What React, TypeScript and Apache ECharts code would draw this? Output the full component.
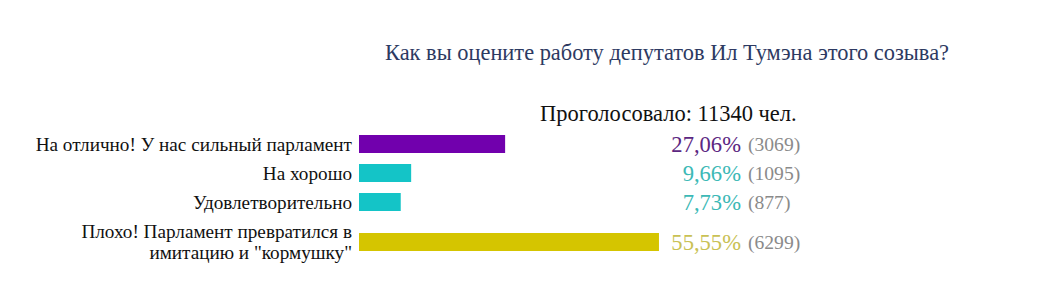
import React, { useEffect, useRef } from "react";
import * as echarts from "echarts";

const title = "Как вы оцените работу депутатов Ил Тумэна этого созыва?";
const totalVotes = 11340;
const categories = [
  "На отлично! У нас сильный парламент",
  "На хорошо",
  "Удовлетворительно",
  'Плохо! Парламент превратился в\nимитацию и "кормушку"',
];
const percents = [27.06, 9.66, 7.73, 55.55];
const counts = [3069, 1095, 877, 6299];
const barColors = ["#7100ad", "#14c4c7", "#14c4c7", "#d5c500"];
const textColors = ["#5c2782", "#3cb9b6", "#3cb9b6", "#c9c154"];

const FONT = "'Liberation Serif', 'Times New Roman', serif";

export default function App() {
  const ref = useRef<HTMLDivElement>(null);
  useEffect(() => {
    if (!ref.current) return;
    const chart = echarts.init(ref.current, null, { renderer: "svg" });

    const groups = [
      [0, 1, 2],
      [3],
    ];
    const grids = [
      { left: 359, width: 540, top: 129.5, height: 87 },
      { left: 359, width: 540, top: 222, height: 40 },
    ];

    const xAxis: any[] = [];
    const yAxis: any[] = [];
    const series: any[] = [];
    groups.forEach((idx, g) => {
      xAxis.push({
        gridIndex: g,
        type: "value",
        min: 0,
        max: 100,
        show: false,
      });
      yAxis.push({
        gridIndex: g,
        type: "category",
        inverse: true,
        data: idx.map((i) => categories[i]),
        axisLine: { show: false },
        axisTick: { show: false },
        splitLine: { show: false },
        axisLabel: {
          margin: 7,
          fontFamily: FONT,
          fontSize: 19.2,
          color: "#111",
          lineHeight: 21,
          align: "right",
          padding: g === 1 ? [0, 0, 6, 0] : 0,
        },
      });
      series.push({
        type: "bar",
        xAxisIndex: g,
        yAxisIndex: g,
        barWidth: 18,
        barGap: "-100%",
        data: idx.map((i) => ({
          value: percents[i],
          itemStyle: { color: barColors[i] },
        })),
        z: 3,
      });
      series.push({
        type: "bar",
        xAxisIndex: g,
        yAxisIndex: g,
        barWidth: 18,
        barGap: "-100%",
        silent: true,
        itemStyle: { color: "transparent" },
        data: idx.map((i) => ({
          value: 100,
          label: {
            show: true,
            position: [382, "50%"],
            align: "right",
            verticalAlign: "middle",
            fontFamily: FONT,
            fontSize: 22.6,
            color: textColors[i],
            formatter: () => percents[i].toFixed(2).replace(".", ",") + "%",
          },
        })),
        z: 2,
      });
      series.push({
        type: "bar",
        xAxisIndex: g,
        yAxisIndex: g,
        barWidth: 18,
        barGap: "-100%",
        silent: true,
        itemStyle: { color: "transparent" },
        data: idx.map((i) => ({
          value: 100,
          label: {
            show: true,
            position: [389, "50%"],
            align: "left",
            verticalAlign: "middle",
            fontFamily: FONT,
            fontSize: 19.6,
            color: "#8a8a8a",
            formatter: () => "(" + counts[i] + ")",
          },
        })),
        z: 2,
      });
    });

    chart.setOption({
      animation: false,
      backgroundColor: "#fff",
      title: [
        {
          text: title,
          left: 380,
          top: 36,
          textStyle: {
            fontFamily: FONT,
            fontSize: 22.4,
            fontWeight: "normal",
            color: "#2d3a62",
          },
        },
        {
          text: "Проголосовало: " + totalVotes + " чел.",
          left: 535,
          top: 97,
          textStyle: {
            fontFamily: FONT,
            fontSize: 22.5,
            fontWeight: "normal",
            color: "#111",
          },
        },
      ],
      grid: grids,
      xAxis,
      yAxis,
      series,
    });
    return () => chart.dispose();
  }, []);
  return (
    <div
      ref={ref}
      style={{ width: 1064, height: 308, position: "absolute", left: 0, top: 0 }}
    />
  );
}
